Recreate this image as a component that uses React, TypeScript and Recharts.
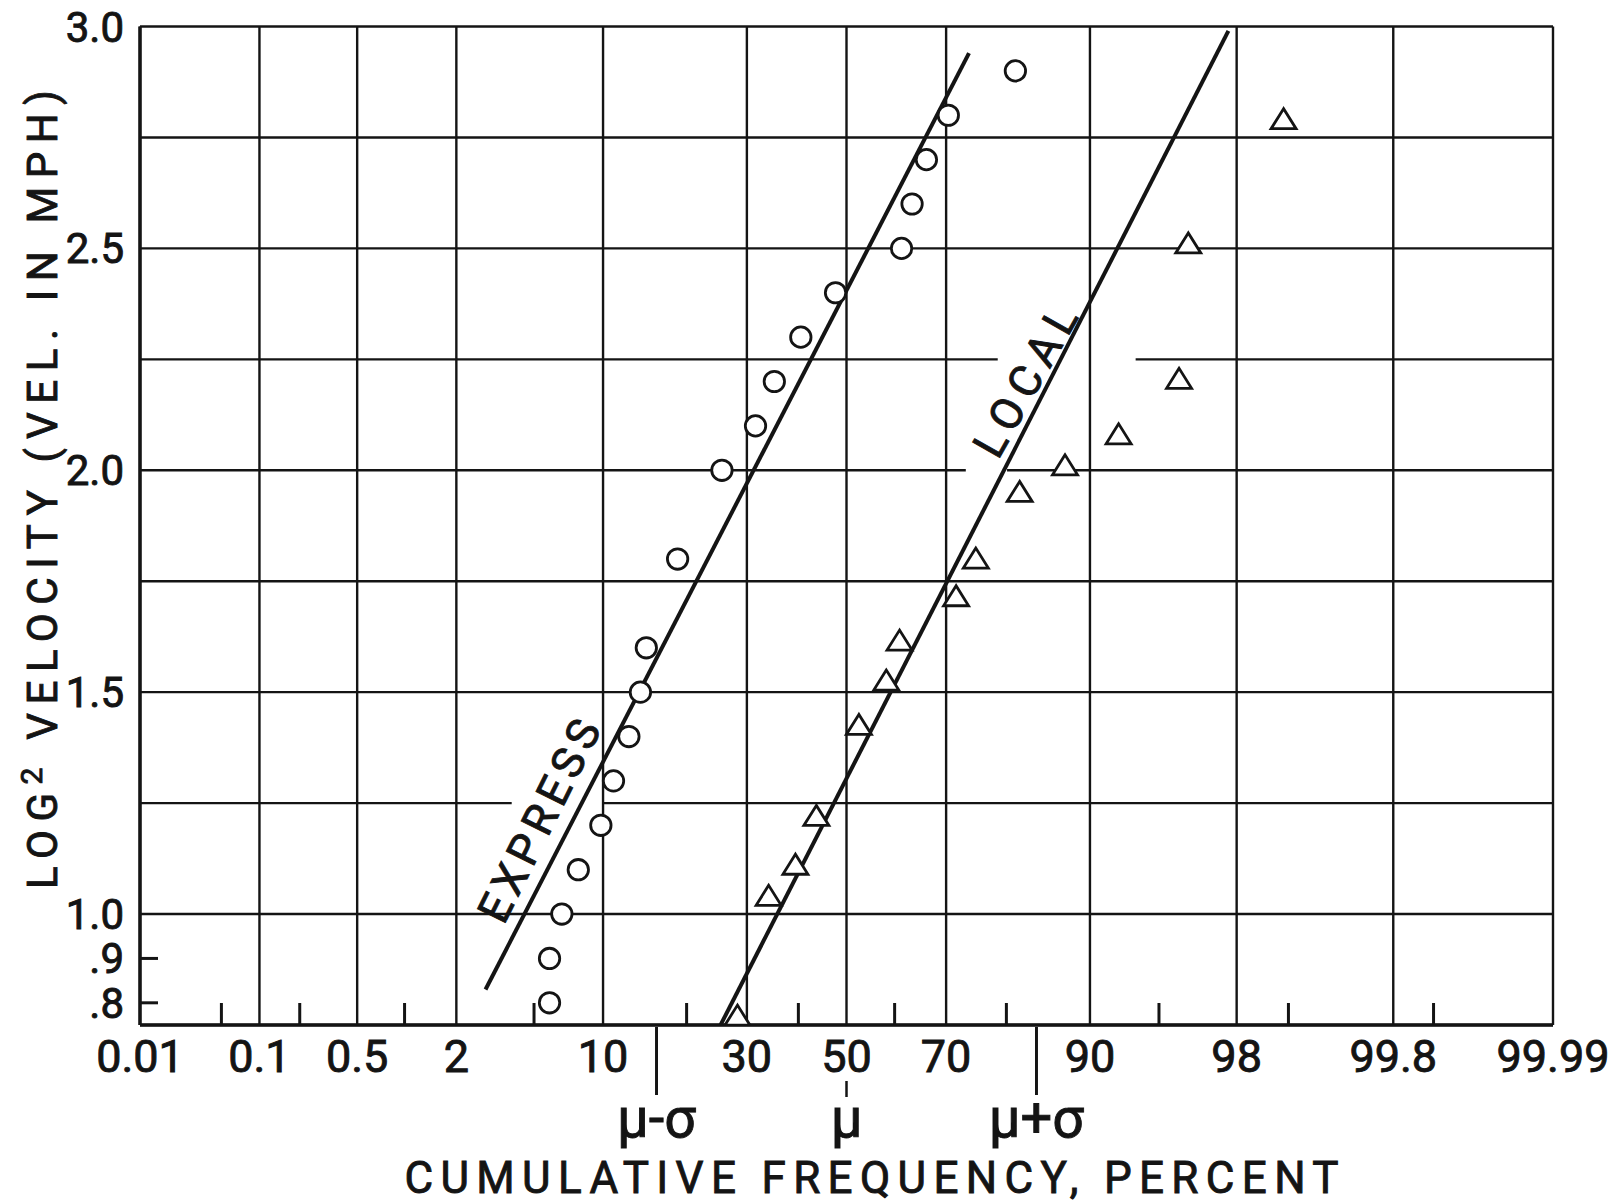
import React from 'react';
import { ComposedChart, XAxis, YAxis, CartesianGrid, Line, Scatter, ReferenceDot, ReferenceLine, Label } from 'recharts';

// ---------- data ----------
const percentTicks = [0.01, 0.1, 0.5, 2, 10, 30, 50, 70, 90, 98, 99.8, 99.99];
const percentTickLabels = ['0.01', '0.1', '0.5', '2', '10', '30', '50', '70', '90', '98', '99.8', '99.99'];
const minorPercentTicks = [0.05, 0.2, 1, 5, 20, 40, 60, 80, 95, 99, 99.9];
const sigmaZ = [-1, 0, 1];
const sigmaLabels = ['μ-σ', 'μ', 'μ+σ'];

const yTicks = [0.8, 0.9, 1.0, 1.5, 2.0, 2.5, 3.0];
const yTickLabels = ['.8', '.9', '1.0', '1.5', '2.0', '2.5', '3.0'];
const yGridValues = [0.75, 1.0, 1.25, 1.5, 1.75, 2.0, 2.25, 2.5, 2.75, 3.0];
const yDomain = [0.75, 3.0];

// breaks left in the hand-drawn horizontal grid lines around the lettering
const gridGapLog2V = [1.25, 2.0, 2.25];
const gridGapFromPercent = [3.9, 73.5, 78.7];
const gridGapToPercent = [10.0, 80.1, 93.6];

const expressPercent = [5.9, 5.9, 6.7, 7.9, 9.8, 11.0, 12.6, 13.9, 14.6, 18.7, 25.6, 31.6, 35.2, 40.5, 47.7, 61.4, 63.5, 66.3, 70.4, 81.3];
const expressLog2V = [0.8, 0.9, 1.0, 1.1, 1.2, 1.3, 1.4, 1.5, 1.6, 1.8, 2.0, 2.1, 2.2, 2.3, 2.4, 2.5, 2.6, 2.7, 2.8, 2.9];

const localPercent = [28.3, 34.1, 39.4, 43.7, 52.6, 58.3, 61.0, 71.8, 75.2, 81.9, 87.5, 92.4, 96.0, 96.4, 98.93];
const localLog2V = [0.77, 1.04, 1.11, 1.22, 1.425, 1.525, 1.615, 1.715, 1.8, 1.95, 2.01, 2.08, 2.205, 2.51, 2.79];

const expressFitPercent = [2.87, 74.05];
const expressFitLog2V = [0.83, 2.94];
const localFitPercent = [25.37, 97.78];
const localFitLog2V = [0.75, 2.99];

const seriesLabels = ['EXPRESS', 'LOCAL'];
const seriesLabelPercent = [5.3, 82.7];
const seriesLabelLog2V = [1.21, 2.2];
const seriesLabelAngle = [-63.5, -60.5];
const seriesLabelLength = [220, 165];

const yAxisTitleParts = ['LOG', '2', ' VELOCITY (VEL. IN MPH)'];
const xAxisTitle = 'CUMULATIVE FREQUENCY, PERCENT';

// ---------- probability (probit) transform ----------
function probit(p: number): number {
  const a = [-39.69683028665376, 220.9460984245205, -275.9285104469687, 138.357751867269, -30.66479806614716, 2.506628277459239];
  const b = [-54.47609879822406, 161.5858368580409, -155.6989798598866, 66.80131188771972, -13.28068155288572];
  const c = [-0.007784894002430293, -0.3223964580411365, -2.400758277161838, -2.549732539343734, 4.374664141464968, 2.938163982698783];
  const d = [0.007784695709041462, 0.3224671290700398, 2.445134137142996, 3.754408661907416];
  const pl = 0.02425;
  const ph = 1 - pl;
  if (p < pl) {
    const q = Math.sqrt(-2 * Math.log(p));
    return (((((c[0] * q + c[1]) * q + c[2]) * q + c[3]) * q + c[4]) * q + c[5]) / ((((d[0] * q + d[1]) * q + d[2]) * q + d[3]) * q + 1);
  }
  if (p <= ph) {
    const q = p - 0.5;
    const r = q * q;
    return ((((((a[0] * r + a[1]) * r + a[2]) * r + a[3]) * r + a[4]) * r + a[5]) * q) / (((((b[0] * r + b[1]) * r + b[2]) * r + b[3]) * r + b[4]) * r + 1);
  }
  const q = Math.sqrt(-2 * Math.log(1 - p));
  return -(((((c[0] * q + c[1]) * q + c[2]) * q + c[3]) * q + c[4]) * q + c[5]) / ((((d[0] * q + d[1]) * q + d[2]) * q + d[3]) * q + 1);
}
const pz = (pct: number) => probit(pct / 100);

const majorZ = percentTicks.map(pz);
const minorZ = minorPercentTicks.map(pz);
const zDomain = [majorZ[0], majorZ[majorZ.length - 1]];

const near = (a: number, b: number) => Math.abs(a - b) < 1e-9;
const bottomTicks = [...majorZ, ...minorZ, ...sigmaZ]
  .filter((v, i, arr) => arr.findIndex((w) => near(v, w)) === i)
  .sort((m, n) => m - n);

// horizontal grid line pieces (full width minus the breaks)
const hGridSegments: { y: number; z1: number; z2: number }[] = [];
yGridValues.forEach((gy) => {
  const gaps = gridGapLog2V
    .map((v, i) => ({ v, a: pz(gridGapFromPercent[i]), b: pz(gridGapToPercent[i]) }))
    .filter((g) => near(g.v, gy))
    .sort((m, n) => m.a - n.a);
  let start = zDomain[0];
  gaps.forEach((g) => {
    hGridSegments.push({ y: gy, z1: start, z2: g.a });
    start = g.b;
  });
  hGridSegments.push({ y: gy, z1: start, z2: zDomain[1] });
});

const expressData = expressPercent.map((p, i) => ({ z: pz(p), y: expressLog2V[i] }));
const localData = localPercent.map((p, i) => ({ z: pz(p), y: localLog2V[i] }));
const expressFit = expressFitPercent.map((p, i) => ({ z: pz(p), y: expressFitLog2V[i] }));
const localFit = localFitPercent.map((p, i) => ({ z: pz(p), y: localFitLog2V[i] }));

// ---------- styles ----------
const INK = '#141414';
const FONT = 'Roboto, "DejaVu Sans", sans-serif';
const TXT = { fontFamily: FONT, fill: INK, stroke: INK, strokeWidth: 0.9 };

// ---------- custom renderers ----------
const BottomTick = (props: any) => {
  const { x, y, payload } = props;
  const v = payload.value;
  const parts: any[] = [];
  const mi = majorZ.findIndex((z) => near(z, v));
  if (mi >= 0) {
    parts.push(
      <text key="lab" x={x} y={y + 47} textAnchor="middle" fontSize={45} {...TXT}>
        {percentTickLabels[mi]}
      </text>
    );
  }
  const ni = minorZ.findIndex((z) => near(z, v));
  if (ni >= 0) {
    parts.push(<line key="minor" x1={x} x2={x} y1={y} y2={y - 22} stroke={INK} strokeWidth={3} />);
  }
  const si = sigmaZ.findIndex((z) => near(z, v));
  if (si >= 0) {
    if (sigmaZ[si] === 0) {
      parts.push(<line key="sl" x1={x} x2={x} y1={y + 56} y2={y + 72} stroke={INK} strokeWidth={2.5} />);
    } else {
      parts.push(<line key="sl" x1={x} x2={x} y1={y + 2} y2={y + 70} stroke={INK} strokeWidth={3} />);
    }
    parts.push(
      <text key="st" x={x} y={y + 112} textAnchor="middle" fontSize={56} {...TXT}>
        {sigmaLabels[si]}
      </text>
    );
  }
  return <g>{parts}</g>;
};

const TopTick = (props: any) => {
  const { x, y } = props;
  return <line x1={x} x2={x} y1={y} y2={y + 25} stroke={INK} strokeWidth={3} />;
};

const LeftTick = (props: any) => {
  const { x, y, payload } = props;
  const v = payload.value;
  const i = yTicks.findIndex((t) => near(t, v));
  return (
    <g>
      <text x={x - 16} y={y + 15} textAnchor="end" fontSize={42} {...TXT}>
        {i >= 0 ? yTickLabels[i] : ''}
      </text>
      {v < 1 ? <line x1={x} x2={x + 18} y1={y} y2={y} stroke={INK} strokeWidth={3} /> : null}
    </g>
  );
};

const CircleShape = (props: any) => {
  const { cx, cy } = props;
  return <circle cx={cx} cy={cy} r={10.2} fill="#fff" stroke={INK} strokeWidth={2.8} />;
};

const TriangleShape = (props: any) => {
  const { cx, cy } = props;
  const pts = `${cx},${cy - 11} ${cx - 12.5},${cy + 9} ${cx + 12.5},${cy + 9}`;
  return <polygon points={pts} fill="#fff" stroke={INK} strokeWidth={2.8} strokeLinejoin="miter" />;
};

const makeSeriesLabel = (i: number) => (props: any) => {
  const { cx, cy } = props;
  return (
    <text
      x={cx}
      y={cy}
      dy={15}
      textAnchor="middle"
      fontSize={44}
      {...TXT}
      textLength={seriesLabelLength[i]}
      lengthAdjust="spacing"
      transform={`rotate(${seriesLabelAngle[i]}, ${cx}, ${cy})`}
    >
      {seriesLabels[i]}
    </text>
  );
};

const YTitle = (props: any) => {
  const vb = props.viewBox || { x: 0, y: 0, width: 0, height: 0 };
  const cx = vb.x + 57;
  const cy = vb.y + 463;
  return (
    <text
      x={cx}
      y={cy}
      textAnchor="middle"
      fontSize={42}
      {...TXT}
      textLength={799}
      lengthAdjust="spacing"
      transform={`rotate(-90, ${cx}, ${cy})`}
    >
      {yAxisTitleParts[0]}
      <tspan fontSize={30} dy={-15}>{yAxisTitleParts[1]}</tspan>
      <tspan dy={15}>{yAxisTitleParts[2]}</tspan>
    </text>
  );
};

const XTitle = (props: any) => {
  const vb = props.viewBox || { x: 0, y: 0, width: 0, height: 0 };
  const cx = vb.x + vb.width / 2 + 25;
  const cy = vb.y + 168;
  return (
    <text x={cx} y={cy} textAnchor="middle" fontSize={44} {...TXT} textLength={934} lengthAdjust="spacing">
      {xAxisTitle}
    </text>
  );
};

const borderStyle = { stroke: INK, strokeWidth: 3.5 };

export default function App() {
  return (
    <div style={{ position: 'absolute', left: 0, top: 0, width: 1621, height: 1204, background: '#fff' }}>
      <ComposedChart width={1621} height={1204} margin={{ top: 26.5, right: 68, bottom: 0, left: 0 }}>
        <CartesianGrid
          xAxisId="main"
          yAxisId="left"
          stroke={INK}
          strokeWidth={2.4}
          horizontal={false}
          verticalValues={majorZ}
          fill="none"
        />
        {hGridSegments.map((s, i) => (
          <ReferenceLine
            key={`hg${i}`}
            xAxisId="main"
            yAxisId="left"
            segment={[
              { x: s.z1, y: s.y },
              { x: s.z2, y: s.y },
            ]}
            stroke={INK}
            strokeWidth={2.4}
            ifOverflow="visible"
          />
        ))}
        <XAxis
          xAxisId="main"
          type="number"
          dataKey="z"
          domain={zDomain}
          allowDataOverflow
          ticks={bottomTicks}
          interval={0}
          tickLine={false}
          tickSize={0}
          tickMargin={0}
          height={179}
          axisLine={borderStyle}
          tick={(p: any) => <BottomTick {...p} />}
        >
          <Label content={(p: any) => <XTitle {...p} />} />
        </XAxis>
        <XAxis
          xAxisId="top"
          orientation="top"
          type="number"
          dataKey="z"
          domain={zDomain}
          allowDataOverflow
          ticks={minorZ}
          interval={0}
          tickLine={false}
          tickSize={0}
          tickMargin={0}
          height={0}
          axisLine={borderStyle}
          tick={(p: any) => <TopTick {...p} />}
        />
        <YAxis
          yAxisId="left"
          type="number"
          domain={yDomain}
          allowDataOverflow
          ticks={yTicks}
          interval={0}
          width={140}
          tickLine={false}
          tickSize={0}
          tickMargin={0}
          axisLine={borderStyle}
          tick={(p: any) => <LeftTick {...p} />}
        >
          <Label content={(p: any) => <YTitle {...p} />} />
        </YAxis>
        <YAxis
          yAxisId="right"
          orientation="right"
          type="number"
          domain={yDomain}
          allowDataOverflow
          width={0}
          tick={false}
          tickLine={false}
          axisLine={borderStyle}
        />
        <Line xAxisId="main" yAxisId="left" data={expressFit} dataKey="y" stroke={INK} strokeWidth={4} dot={false} isAnimationActive={false} />
        <Line xAxisId="main" yAxisId="left" data={localFit} dataKey="y" stroke={INK} strokeWidth={4} dot={false} isAnimationActive={false} />
        <Scatter xAxisId="main" yAxisId="left" data={expressData} dataKey="y" shape={(p: any) => <CircleShape {...p} />} isAnimationActive={false} />
        <Scatter xAxisId="main" yAxisId="left" data={localData} dataKey="y" shape={(p: any) => <TriangleShape {...p} />} isAnimationActive={false} />
        {seriesLabels.map((s, i) => (
          <ReferenceDot
            key={s}
            xAxisId="main"
            yAxisId="left"
            x={pz(seriesLabelPercent[i])}
            y={seriesLabelLog2V[i]}
            r={0}
            shape={makeSeriesLabel(i)}
          />
        ))}
      </ComposedChart>
    </div>
  );
}
